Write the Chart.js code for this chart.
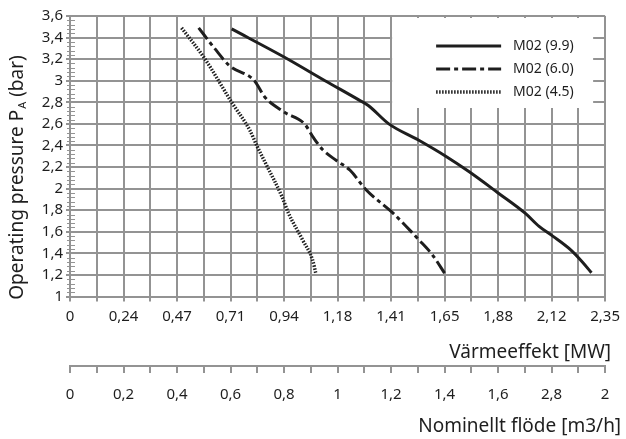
<!DOCTYPE html>
<html>
<head>
<meta charset="utf-8">
<script src="https://cdn.jsdelivr.net/npm/chart.js@4.4.1/dist/chart.umd.min.js"></script>
<style>
  html,body{margin:0;padding:0;background:#fff;}
</style>
</head>
<body>
<canvas id="c" width="626" height="439"></canvas>
<script>
// curves: x = Värmeeffekt [MW], y = pressure [bar]
const m02_99_mw  = [0.71, 0.94, 1.12, 1.27, 1.31, 1.40, 1.53, 1.65, 1.75, 1.88, 2.00, 2.06, 2.12, 2.20, 2.25, 2.29];
const m02_99_bar = [3.48, 3.22, 3.00, 2.82, 2.77, 2.60, 2.45, 2.30, 2.16, 1.96, 1.77, 1.65, 1.56, 1.43, 1.32, 1.22];

const m02_60_mw  = [0.565, 0.635, 0.70, 0.81, 0.855, 0.94, 1.03, 1.07, 1.11, 1.17, 1.23, 1.30, 1.42, 1.53, 1.59, 1.65];
const m02_60_bar = [3.49, 3.30, 3.14, 3.00, 2.85, 2.71, 2.60, 2.47, 2.36, 2.26, 2.17, 1.99, 1.77, 1.53, 1.39, 1.20];

const m02_45_mw  = [0.49, 0.59, 0.71, 0.79, 0.82, 0.86, 0.93, 0.96, 1.02, 1.065, 1.08];
const m02_45_bar = [3.49, 3.21, 2.80, 2.54, 2.40, 2.23, 1.93, 1.77, 1.53, 1.34, 1.21];

const seriesNames = ['M02 (9.9)', 'M02 (6.0)', 'M02 (4.5)'];

const powerTicks = ['0','0,24','0,47','0,71','0,94','1,18','1,41','1,65','1,88','2,12','2,35'];
const flowTicks = ['0','0,2','0,4','0,6','0,8','1','1,2','1,4','1,6','2,8','2'];
const pressureTicks = ['1','1,2','1,4','1,6','1,8','2','2,2','2,4','2,6','2,8','3','3,2','3,4','3,6'];

const FONT = '"Noto Sans", "Open Sans", sans-serif';
const GRID = '#939393';
const INK = '#1e1e1e';

function pts(xs, ys){ return xs.map((x,i)=>({x:x, y:ys[i]})); }

// minor ticks, legend box, axis titles (the y one has a subscript)
const decor = {
  id:'decor',
  afterDraw(chart){
    const ctx = chart.ctx, ca = chart.chartArea, y = chart.scales.y;

    ctx.save();
    ctx.strokeStyle = GRID; ctx.lineWidth = 1;
    const n = Math.round((y.max - y.min) / 0.04);
    for(let i=1;i<n;i++){
      if(i % 5 === 0) continue;
      const py = Math.round(y.getPixelForValue(y.min + i*0.04)) + 0.5;
      ctx.beginPath(); ctx.moveTo(ca.left-3, py); ctx.lineTo(ca.left+5, py); ctx.stroke();
    }
    ctx.restore();

    // legend
    const L = ca.right - 213, T = ca.top + 2;
    ctx.save();
    ctx.fillStyle = '#fff';
    ctx.fillRect(L, T, 201, 90);
    chart.data.datasets.forEach((ds,i)=>{
      const ry = T + 28 + i*23;
      ctx.strokeStyle = ds.borderColor; ctx.lineWidth = ds.borderWidth;
      ctx.setLineDash(ds.borderDash || []);
      ctx.beginPath(); ctx.moveTo(L+44, ry); ctx.lineTo(L+109, ry); ctx.stroke();
      ctx.setLineDash([]);
      ctx.fillStyle = INK; ctx.font = '14px ' + FONT;
      ctx.textBaseline = 'middle'; ctx.textAlign = 'left';
      ctx.fillText(ds.label, L+121, ry);
    });
    ctx.restore();

    // x axis titles, right aligned a bit past the plot edge
    ctx.save();
    ctx.fillStyle = INK; ctx.font = '19px ' + FONT;
    ctx.textAlign = 'right'; ctx.textBaseline = 'middle';
    ctx.fillText('Värmeeffekt [MW]', ca.right + 6, chart.scales.x.bottom - 13);
    ctx.fillText('Nominellt flöde [m3/h]', ca.right + 16, chart.scales.x2.bottom - 12);
    ctx.restore();

    // y axis title: Operating pressure P_A (bar)
    ctx.save();
    ctx.translate(18, 178);
    ctx.rotate(-Math.PI/2);
    ctx.fillStyle = INK; ctx.textBaseline = 'middle'; ctx.textAlign = 'left';
    const big = '19px ' + FONT, small = '11px ' + FONT;
    ctx.font = big; const w1 = ctx.measureText('Operating pressure P').width;
    ctx.font = small; const w2 = ctx.measureText('A').width;
    ctx.font = big; const w3 = ctx.measureText(' (bar)').width;
    let x0 = -(w1+w2+w3)/2;
    ctx.fillText('Operating pressure P', x0, 0);
    ctx.font = small; ctx.fillText('A', x0+w1+1, 5);
    ctx.font = big; ctx.fillText(' (bar)', x0+w1+w2+1, 0);
    ctx.restore();
  }
};

new Chart(document.getElementById('c'), {
  type:'line',
  data:{ datasets:[
    { label:seriesNames[0], data:pts(m02_99_mw, m02_99_bar), borderColor:INK, borderWidth:3,
      borderDash:[], pointRadius:0, cubicInterpolationMode:'monotone', xAxisID:'x' },
    { label:seriesNames[1], data:pts(m02_60_mw, m02_60_bar), borderColor:INK, borderWidth:3,
      borderDash:[14,4,4,4], pointRadius:0, cubicInterpolationMode:'monotone', xAxisID:'x' },
    { label:seriesNames[2], data:pts(m02_45_mw, m02_45_bar), borderColor:INK, borderWidth:3.5,
      borderDash:[1.5,1.5], pointRadius:0, cubicInterpolationMode:'monotone', xAxisID:'x' }
  ]},
  options:{
    responsive:false, animation:false, devicePixelRatio:1,
    layout:{ padding:{ top:16, right:19, left:0, bottom:0 } },
    plugins:{ legend:{display:false}, tooltip:{enabled:false} },
    scales:{
      x:{
        type:'linear', position:'bottom', weight:0, min:0, max:2.35,
        afterFit(s){ s.height = 69.5; },
        grid:{ color:GRID, lineWidth:2, tickLength:5 },
        border:{ color:GRID, width:2 },
        ticks:{ stepSize:0.1175, autoSkip:false, maxRotation:0, padding:6, color:INK,
          font:{ family:FONT, size:15 },
          callback:(v,i)=> i%2===0 ? powerTicks[i/2] : '' }
      },
      x2:{
        type:'linear', position:'bottom', weight:1, min:0, max:2,
        afterFit(s){ s.height = 73; },
        grid:{ drawOnChartArea:false, color:GRID, lineWidth:2, tickLength:7 },
        border:{ color:GRID, width:2 },
        ticks:{ stepSize:0.1, autoSkip:false, maxRotation:0, padding:13, color:INK,
          font:{ family:FONT, size:15 },
          callback:(v,i)=> i%2===0 ? flowTicks[i/2] : '' }
      },
      y:{
        type:'linear', min:1, max:3.6,
        afterFit(s){ s.width = 70; },
        grid:{ color:GRID, lineWidth:2, tickLength:4 },
        border:{ color:GRID, width:2 },
        ticks:{ stepSize:0.2, autoSkip:false, padding:3, color:INK,
          font:{ family:FONT, size:15 },
          callback:(v,i)=> pressureTicks[i] }
      }
    }
  },
  plugins:[decor]
});
</script>
</body>
</html>
